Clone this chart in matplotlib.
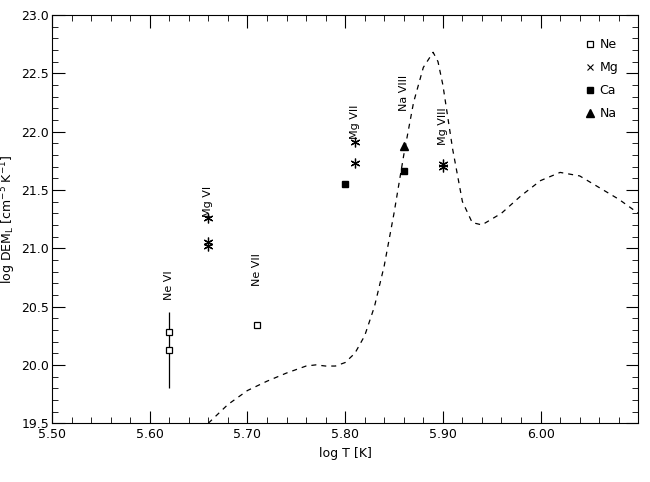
import matplotlib
matplotlib.use("Agg")
import matplotlib.pyplot as plt
import numpy as np

ne_T = [5.62, 5.62, 5.71]
ne_D = [20.28, 20.13, 20.34]
mg_T = [5.66, 5.66, 5.66, 5.81, 5.81, 5.90, 5.90]
mg_D = [21.26, 21.05, 21.02, 21.91, 21.73, 21.72, 21.70]
ca_T = [5.80, 5.86]
ca_D = [21.55, 21.66]
na_T = [5.86]
na_D = [21.88]
err_T = [5.62]
err_lo = [19.8]
err_hi = [20.45]
ion_labels = ["Ne VI", "Mg VI", "Ne VII", "Mg VII", "Na VIII", "Mg VIII"]
ion_T = [5.62, 5.66, 5.71, 5.81, 5.86, 5.90]
ion_y = [20.68, 21.4, 20.82, 22.08, 22.33, 22.05]
curve_T = [5.66, 5.68, 5.70, 5.72, 5.74, 5.76, 5.77, 5.78, 5.79, 5.80, 5.81, 5.82, 5.83, 5.84, 5.85,
           5.86, 5.87, 5.88, 5.89, 5.895, 5.90, 5.91, 5.92, 5.93, 5.94, 5.96, 5.98, 6.00, 6.02, 6.04, 6.06, 6.08, 6.10]
curve_D = [19.5, 19.66, 19.78, 19.86, 19.93, 19.99, 20.0, 19.99, 19.99, 20.02, 20.1, 20.25, 20.5, 20.85, 21.3,
           21.8, 22.25, 22.55, 22.68, 22.6, 22.4, 21.85, 21.4, 21.22, 21.2, 21.3, 21.45, 21.58, 21.65, 21.62, 21.52, 21.42, 21.3]

plt.rcParams["font.family"] = "DejaVu Sans"
fig = plt.figure(figsize=(6.5, 4.82), dpi=100)
ax = fig.add_axes([0.08, 0.122, 0.902, 0.847])
ax.plot(curve_T, curve_D, "k--", lw=0.9, dashes=(4, 4))
ax.vlines(err_T, err_lo, err_hi, color="k", lw=0.9)
ax.plot(ne_T, ne_D, "s", mfc="white", mec="k", ms=5, mew=0.9, label="Ne", ls="none")
ax.plot(mg_T, mg_D, marker=(6, 2, 0), color="k", ms=7, mew=0.9, ls="none")
ax.plot([], [], "x", color="k", ms=5, mew=0.8, label="Mg", ls="none")
ax.plot(ca_T, ca_D, "s", color="k", ms=5, ls="none", label="Ca")
ax.plot(na_T, na_D, marker="^", color="k", ms=6, ls="none", label="Na")
for lab, t, y in zip(ion_labels, ion_T, ion_y):
    ax.text(t, y, lab, rotation=90, ha="center", va="center", fontsize=8)
ax.set_xlim(5.5, 6.1)
ax.set_ylim(19.5, 23.0)
ax.set_xticks([5.5, 5.6, 5.7, 5.8, 5.9, 6.0])
ax.set_xticklabels(["5.50", "5.60", "5.70", "5.80", "5.90", "6.00"])
ax.set_yticks(np.arange(19.5, 23.01, 0.5))
ax.set_yticklabels(["%.1f" % v for v in np.arange(19.5, 23.01, 0.5)])
ax.minorticks_on()
ax.xaxis.set_minor_locator(matplotlib.ticker.MultipleLocator(0.02))
ax.yaxis.set_minor_locator(matplotlib.ticker.MultipleLocator(0.1))
ax.tick_params(which="both", direction="in", top=True, right=True, labelsize=9)
ax.tick_params(which="both", axis="y", pad=2)
ax.tick_params(which="major", length=9)
ax.tick_params(which="minor", length=4)
ax.set_xlabel("log T [K]", fontsize=9)
ax.set_ylabel(r"log DEM$_\mathrm{L}$ [cm$^{-5}$ K$^{-1}$]", fontsize=9)
ax.yaxis.set_label_coords(-0.058, 0.5)
ax.legend(loc="upper right", frameon=False, fontsize=9, handletextpad=0.3, labelspacing=0.8,
          bbox_to_anchor=(0.985, 0.97), handlelength=1.0)
fig.savefig("out.png", dpi=100)
